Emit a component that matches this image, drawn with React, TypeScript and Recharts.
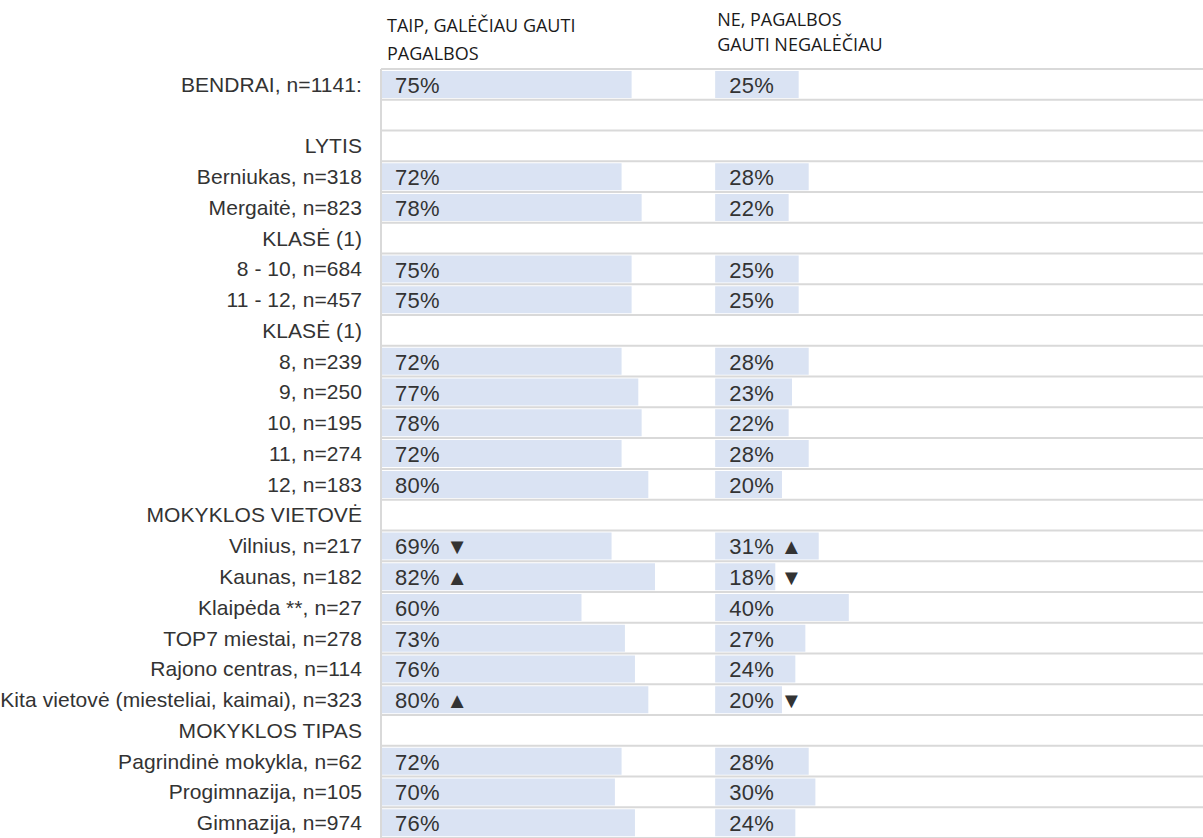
import React from "react";
import { BarChart, Bar, XAxis, YAxis, CartesianGrid, LabelList } from "recharts";

const categories: string[] = [
  "BENDRAI, n=1141:",
  " ",
  "LYTIS",
  "Berniukas, n=318",
  "Mergaitė, n=823",
  "KLASĖ (1)",
  "8 - 10, n=684",
  "11 - 12, n=457",
  "KLASĖ (1)",
  "8, n=239",
  "9, n=250",
  "10, n=195",
  "11, n=274",
  "12, n=183",
  "MOKYKLOS VIETOVĖ",
  "Vilnius, n=217",
  "Kaunas, n=182",
  "Klaipėda **, n=27",
  "TOP7 miestai, n=278",
  "Rajono centras, n=114",
  "Kita vietovė (miesteliai, kaimai), n=323",
  "MOKYKLOS TIPAS",
  "Pagrindinė mokykla, n=62",
  "Progimnazija, n=105",
  "Gimnazija, n=974",
];

const yesValues: (number | null)[] = [
  75, null, null, 72, 78, null, 75, 75, null, 72, 77, 78, 72, 80, null, 69, 82, 60, 73, 76, 80, null, 72, 70, 76,
];
const noValues: (number | null)[] = [
  25, null, null, 28, 22, null, 25, 25, null, 28, 23, 22, 28, 20, null, 31, 18, 40, 27, 24, 20, null, 28, 30, 24,
];
const yesMarks: string[] = [
  "", "", "", "", "", "", "", "", "", "", "", "", "", "", "", "▼", "▲", "", "", "", "▲", "", "", "", "",
];
const noMarks: string[] = [
  "", "", "", "", "", "", "", "", "", "", "", "", "", "", "", "▲", "▼", "", "", "", "▼", "", "", "", "",
];

const headerYes: string[] = ["TAIP, GALĖČIAU GAUTI", "PAGALBOS"];
const headerNo: string[] = ["NE, PAGALBOS", "GAUTI NEGALĖČIAU"];
const columnStarts: number[] = [0, 100];

const data = categories.map((label, i) => {
  const yes = yesValues[i];
  const no = noValues[i];
  return {
    label,
    yes,
    gap: yes == null ? null : 100 - yes,
    no,
    yesText: yes == null ? undefined : `${yes}%` + (yesMarks[i] ? ` ${yesMarks[i]}` : ""),
    noText: no == null ? undefined : `${no}%` + (noMarks[i] ? ` ${noMarks[i]}` : ""),
  };
});

const BAR_FILL = "#DAE3F3";
const GRID = "#d9d9d9";
const TEXT = "#333333";

const renderPct = (props: any) => {
  const { x, y, height, value } = props;
  if (value == null || x == null) return null;
  return (
    <text
      x={Number(x) + 14}
      y={Number(y) + Number(height) / 2 + 1}
      dominantBaseline="central"
      fontFamily="Liberation Sans, Arial, sans-serif"
      fontSize={22}
      letterSpacing={0.3}
      fill={TEXT}
    >
      {value}
    </text>
  );
};

const HeaderTick = (props: any) => {
  const { x, y, payload } = props;
  const idx = payload && payload.index != null ? payload.index : columnStarts.indexOf(payload.value);
  const lines = idx === 0 ? headerYes : headerNo;
  const dx = idx === 0 ? 6 : 2;
  const baseY = idx === 0 ? Number(y) - 37 : Number(y) - 43;
  const step = idx === 0 ? 28 : 25;
  return (
    <g>
      {lines.map((l, k) => (
        <text
          key={k}
          x={Number(x) + dx}
          y={baseY + k * step}
          fontFamily="Open Sans, sans-serif"
          fontSize={18}
          fill="#1a1a1a"
        >
          {l}
        </text>
      ))}
    </g>
  );
};

export default function App() {
  const n = categories.length;
  return (
    <div style={{ position: "absolute", left: 0, top: 0, width: 1203, height: 838, background: "#fff" }}>
      <BarChart
        width={1203}
        height={838}
        data={data}
        layout="vertical"
        margin={{ top: 0, right: 0, bottom: 0, left: 0 }}
        barSize={27}
      >
        <CartesianGrid
          vertical={false}
          stroke={GRID}
          strokeWidth={2}
          horizontalCoordinatesGenerator={({ offset }: any) =>
            Array.from({ length: n + 1 }, (_, i) => offset.top + (i * offset.height) / n)
          }
        />
        <XAxis
          type="number"
          orientation="top"
          domain={[0, 246]}
          ticks={columnStarts}
          height={69}
          axisLine={false}
          tickLine={false}
          tickSize={0}
          tickMargin={0}
          tick={<HeaderTick />}
          allowDataOverflow
        />
        <YAxis
          type="category"
          dataKey="label"
          width={381}
          interval={0}
          axisLine={{ stroke: GRID, strokeWidth: 2 }}
          tickLine={false}
          tickSize={0}
          tickMargin={19}
          tick={{ fontFamily: "Liberation Sans, Arial, sans-serif", fontSize: 21, fill: TEXT, letterSpacing: 0.07 }}
        />
        <Bar dataKey="yes" stackId="s" fill={BAR_FILL} isAnimationActive={false}>
          <LabelList dataKey="yesText" content={renderPct} />
        </Bar>
        <Bar dataKey="gap" stackId="s" fill="transparent" isAnimationActive={false} />
        <Bar dataKey="no" stackId="s" fill={BAR_FILL} isAnimationActive={false}>
          <LabelList dataKey="noText" content={renderPct} />
        </Bar>
      </BarChart>
    </div>
  );
}
